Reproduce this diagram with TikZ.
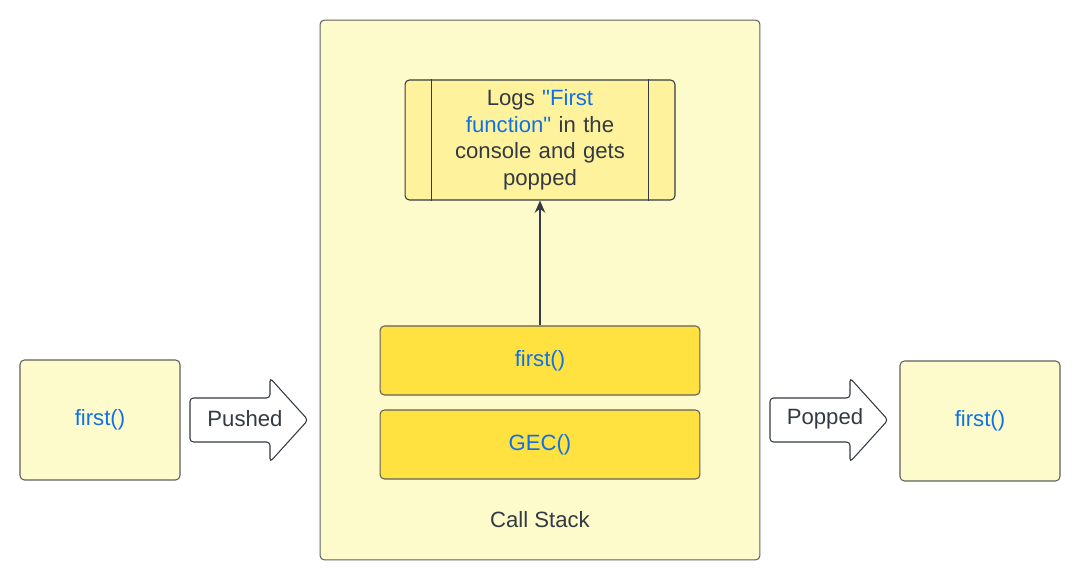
\documentclass[tikz,border=0pt]{standalone}
\usepackage{fontspec}
\setmainfont{Liberation Sans}
\usetikzlibrary{arrows.meta}
\definecolor{paleyellow}{HTML}{FDFACB}
\definecolor{logsyellow}{HTML}{FFF29C}
\definecolor{frameyellow}{HTML}{FFE140}
\definecolor{fnblue}{HTML}{1071E5}
\definecolor{inkgray}{HTML}{333A42}
\definecolor{edgegray}{HTML}{5F5F5F}
\tikzset{
  box/.style={draw=edgegray, line width=0.6pt, rounded corners=2.5pt, fill=paleyellow,
    font=\fontsize{12.6}{15}\selectfont, text=fnblue, inner sep=0pt},
  framebox/.style={box, fill=frameyellow, minimum width=6.4cm, minimum height=1.38cm},
  fnbox/.style={box, minimum width=3.2cm, minimum height=2.4cm},
  label/.style={font=\fontsize{12.6}{15}\selectfont, text=inkgray},
  fatarrow/.style={draw=inkgray, line width=0.6pt, fill=white, rounded corners=2pt}
}
\newcommand{\fn}[1]{\textcolor{fnblue}{#1}}
% straight double quote, bypassing the TeX ligature mapping
\newcommand{\sq}{\XeTeXglyph\number\XeTeXcharglyph"22\relax}
\begin{document}
\begin{tikzpicture}[x=0.02cm, y=-0.02cm]
  \useasboundingbox (0,0) rectangle (1080,580);

  % call stack
  \node[box, minimum width=8.8cm, minimum height=10.8cm] (stack) at (540,290) {};
  \node[label] (stacklabel) at (540,520) {Call Stack};

  % logged output
  \node[box, fill=logsyellow, draw=inkgray, minimum width=5.4cm, minimum height=2.4cm,
        text width=4cm, align=center, text=inkgray,
        font=\fontsize{12.6}{15.1}\selectfont] (logs) at (540,140)
    {Logs \fn{\sq First}\\ \fn{function\sq} in the\\ console and gets\\ popped};
  \draw[inkgray, line width=0.6pt] ([xshift=0.54cm]logs.north west) -- ([xshift=0.54cm]logs.south west);
  \draw[inkgray, line width=0.6pt] ([xshift=-0.54cm]logs.north east) -- ([xshift=-0.54cm]logs.south east);

  % frames
  \node[framebox] (first) at (540,360.5) {first()};
  \node[framebox] (gec) at (540,444.5) {GEC()};
  \draw[inkgray, line width=0.6pt, -{Stealth[length=7pt, width=6pt]}] (first.north) -- (logs.south);

  % outside boxes
  \node[fnbox] (inbox) at (100,420) {first()};
  \node[fnbox] (outbox) at (980,421) {first()};

  % pushed / popped arrows
  \draw[fatarrow] (190,398) -- (270,398) -- (270,378) -- (308,420) -- (270,462) -- (270,442) -- (190,442) -- cycle;
  \node[label] (pushed) at (245,419) {Pushed};
  \draw[fatarrow] (770,398) -- (850,398) -- (850,378) -- (888,420) -- (850,462) -- (850,442) -- (770,442) -- cycle;
  \node[label] (popped) at (825,419) {Popped};
\end{tikzpicture}
\end{document}
